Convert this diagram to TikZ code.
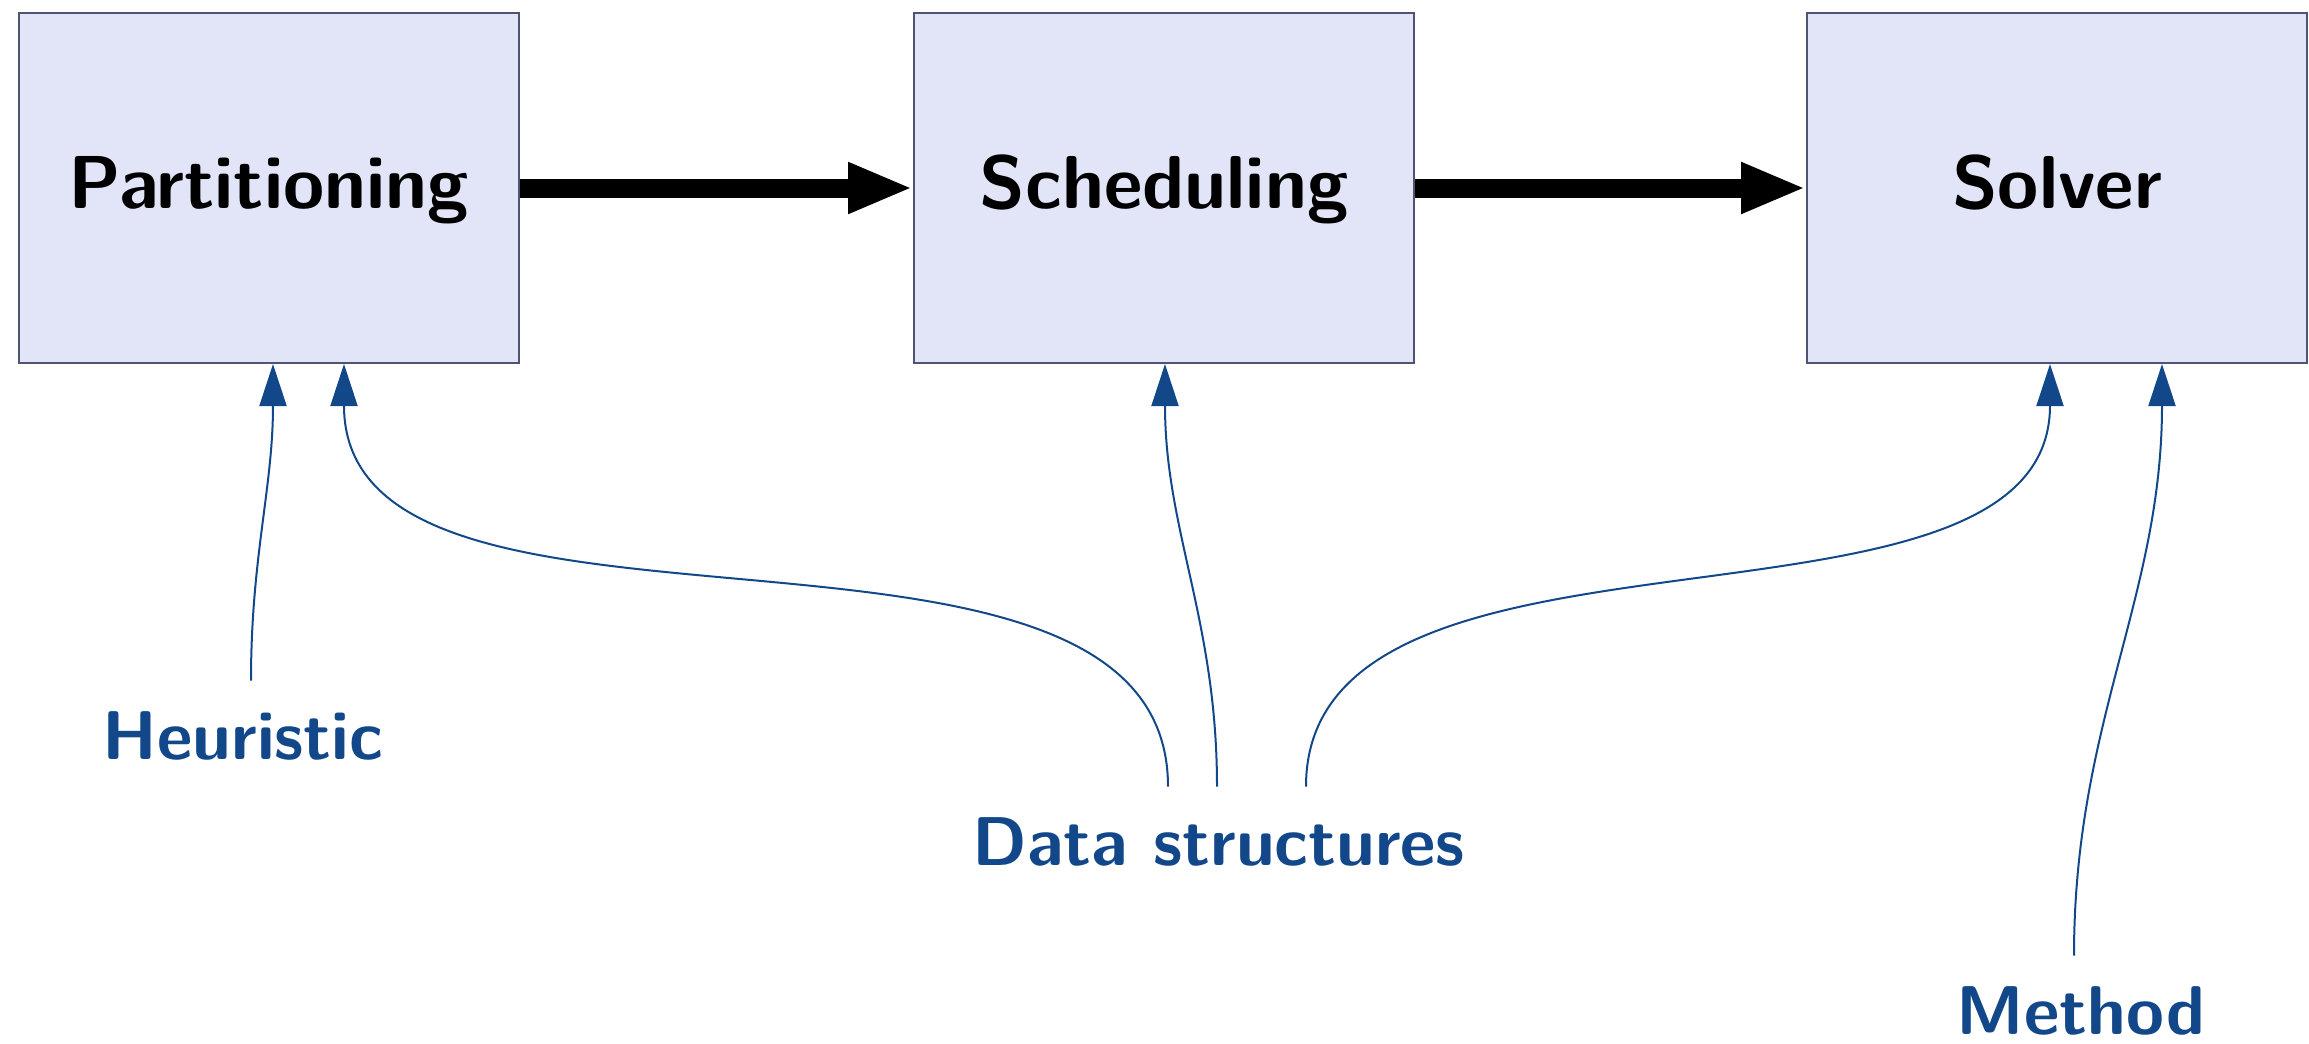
\documentclass[tikz,border=0pt]{standalone}
\usepackage{fontspec}
\usetikzlibrary{arrows.meta}
\definecolor{boxfill}{RGB}{226,228,248}
\definecolor{boxline}{RGB}{80,84,115}
\definecolor{labblue}{RGB}{18,72,138}
\tikzset{
  stage/.style={draw=boxline, line width=1pt, fill=boxfill, rectangle,
    minimum width=250pt, minimum height=175pt, inner sep=0pt,
    text height=26pt, text depth=6pt,
    font=\sffamily\bfseries\fontsize{37.5}{44}\selectfont, text=black},
  lab/.style={anchor=base, inner xsep=2pt, inner ysep=14pt, text height=25pt,
    font=\sffamily\bfseries\fontsize{34.5}{41}\selectfont, text=labblue},
  flow/.style={line width=9.5pt, -{Triangle[length=32.5pt,width=23.5pt]}},
  feed/.style={draw=labblue, line width=1pt, -{Triangle[length=21pt,width=13.5pt]}}
}
\begin{document}
\begin{tikzpicture}[x=0.5pt,y=0.5pt]
\useasboundingbox (0,0) rectangle (2309,-1044);
\node[stage] (part) at (269,-188) {Partitioning};
\node[stage] (sched) at (1164,-188) {Scheduling};
\node[stage] (solv) at (2057,-188) {Solver};

\node[lab] (heur) at (243,-759) {Heuristic};
\node[lab] (ds) at (1219,-865) {Data structures};
\node[lab] (meth) at (2081,-1034) {Method};

\draw[flow] (part.east) -- (sched.west);
\draw[flow] (sched.east) -- (solv.west);

\draw[feed] ([xshift=4pt]heur.north) to[out=90,in=-90] ([xshift=2pt]part.south);
\draw[feed] ([xshift=-25.5pt]ds.north) to[out=90,in=-90,looseness=0.9] ([xshift=37.5pt]part.south);
\draw[feed] ([xshift=-1pt]ds.north) to[out=90,in=-90] ([xshift=0.5pt]sched.south);
\draw[feed] ([xshift=43.5pt]ds.north) to[out=90,in=-90,looseness=0.9] ([xshift=-3.5pt]solv.south);
\draw[feed] ([xshift=-3.5pt]meth.north) to[out=90,in=-90] ([xshift=52.5pt]solv.south);
\end{tikzpicture}
\end{document}
